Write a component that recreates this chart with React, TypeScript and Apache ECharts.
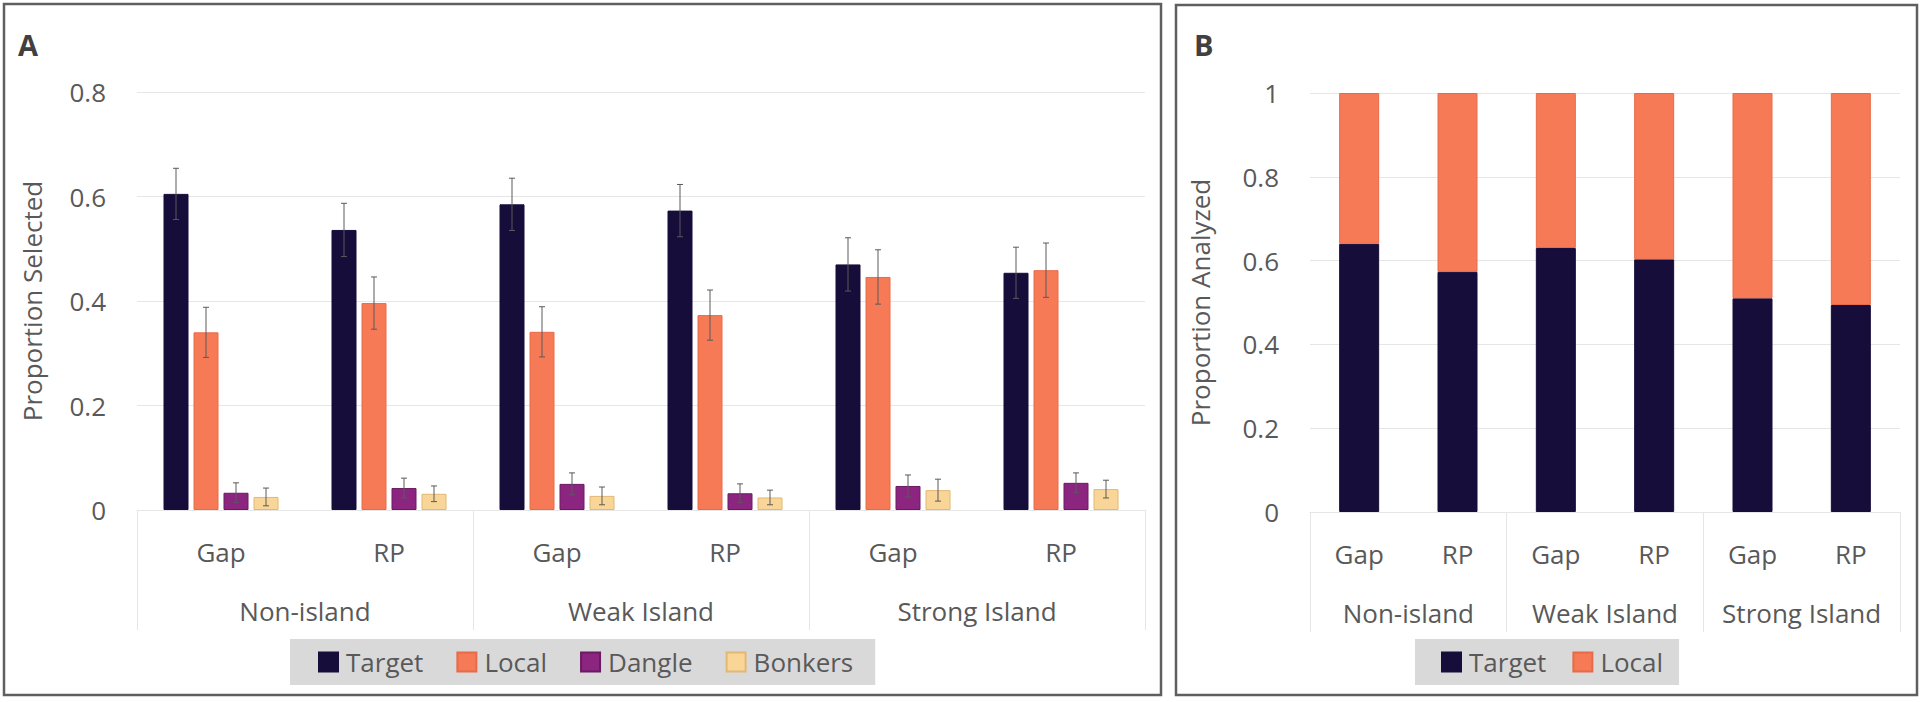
import React, { useEffect, useRef } from "react";
import * as echarts from "echarts";

const categories = ["Gap", "RP", "Gap", "RP", "Gap", "RP"];
const groups = ["Non-island", "Weak Island", "Strong Island"];

// Panel A: proportion selected
const targetA = [0.605, 0.536, 0.585, 0.573, 0.47, 0.454];
const localA = [0.34, 0.396, 0.341, 0.373, 0.446, 0.459];
const dangleA = [0.033, 0.042, 0.05, 0.032, 0.046, 0.052];
const bonkersA = [0.025, 0.031, 0.027, 0.024, 0.038, 0.04];
// half-width of the error bars
const targetErr = [0.049, 0.051, 0.05, 0.05, 0.051, 0.049];
const localErr = [0.048, 0.05, 0.048, 0.048, 0.052, 0.052];
const dangleErr = [0.019, 0.019, 0.021, 0.018, 0.021, 0.019];
const bonkersErr = [0.017, 0.015, 0.017, 0.014, 0.021, 0.017];

// Panel B: proportion analyzed
const targetB = [0.64, 0.573, 0.63, 0.603, 0.51, 0.494];
const localB = [0.36, 0.427, 0.37, 0.397, 0.49, 0.506];

const COLORS = {
  Target: "#160d3a",
  Local: "#f77a57",
  Dangle: "#8c2580",
  Bonkers: "#f9d698",
};
const BORDERS = {
  Target: "#160d3a",
  Local: "#e86a48",
  Dangle: "#6a1a60",
  Bonkers: "#e2b874",
};

const FONT = "Open Sans";
const TXT = "#595959";
const GRID = "#e6e6e6";
const FS = 26;

const BAR_W_A = 25;
const BAR_GAP_A = 5;

export default function App() {
  const ref = useRef<HTMLDivElement>(null);

  useEffect(() => {
    if (!ref.current) return;
    const chart = echarts.init(ref.current, undefined, { renderer: "svg" });

    const namesA = ["Target", "Local", "Dangle", "Bonkers"];
    const valsA = [targetA, localA, dangleA, bonkersA];
    const errsA = [targetErr, localErr, dangleErr, bonkersErr];

    const barSeriesA = namesA.map((n, i) => ({
      name: n,
      type: "bar",
      xAxisIndex: 0,
      yAxisIndex: 0,
      barWidth: BAR_W_A,
      barGap: (BAR_GAP_A / BAR_W_A) * 100 + "%",
      data: valsA[i],
      itemStyle: { color: COLORS[n], borderColor: BORDERS[n], borderWidth: 1 },
    }));

    const errSeriesA = namesA.map((n, i) => {
      const offset = (i - 1.5) * (BAR_W_A + BAR_GAP_A);
      return {
        type: "custom",
        xAxisIndex: 0,
        yAxisIndex: 0,
        silent: true,
        z: 5,
        data: valsA[i].map((v, k) => [k, v - errsA[i][k], v + errsA[i][k]]),
        renderItem: (params: any, api: any) => {
          const x = api.value(0);
          const hi = api.coord([x, api.value(2)]);
          const lo = api.coord([x, api.value(1)]);
          const cx = hi[0] + offset;
          const st = { stroke: "#5a5a5a", lineWidth: 1 };
          return {
            type: "group",
            children: [
              { type: "line", shape: { x1: cx, y1: hi[1], x2: cx, y2: lo[1] }, style: st },
              { type: "line", shape: { x1: cx - 3, y1: hi[1], x2: cx + 3, y2: hi[1] }, style: st },
              { type: "line", shape: { x1: cx - 3, y1: lo[1], x2: cx + 3, y2: lo[1] }, style: st },
            ],
          };
        },
      };
    });

    const barSeriesB = [
      { name: "Target", data: targetB },
      { name: "Local", data: localB },
    ].map((s) => ({
      name: s.name,
      type: "bar",
      stack: "b",
      xAxisIndex: 2,
      yAxisIndex: 1,
      barWidth: 40,
      data: s.data,
      itemStyle: { color: COLORS[s.name], borderColor: BORDERS[s.name], borderWidth: 1 },
    }));

    const catAxis = (gridIndex: number) => ({
      type: "category",
      gridIndex,
      data: categories,
      position: "bottom",
      axisLine: { show: true, lineStyle: { color: GRID, width: 1 } },
      axisTick: { show: false },
      axisLabel: {
        color: TXT,
        fontFamily: FONT,
        fontSize: FS,
        margin: 29,
        lineHeight: FS,
        interval: 0,
        hideOverlap: false,
      },
    });
    const groupAxis = (gridIndex: number) => ({
      type: "category",
      gridIndex,
      data: groups,
      position: "bottom",
      axisLine: { show: false },
      axisTick: { show: true, length: 120, interval: 0, lineStyle: { color: GRID, width: 1 } },
      axisLabel: {
        color: TXT,
        fontFamily: FONT,
        fontSize: FS,
        margin: 88,
        lineHeight: FS,
        interval: 0,
        hideOverlap: false,
      },
    });

    const valAxis = (gridIndex: number, max: number, name: string, nameGap: number) => ({
      type: "value",
      gridIndex,
      min: 0,
      max,
      interval: 0.2,
      name,
      nameLocation: "middle",
      nameGap,
      nameTextStyle: { color: TXT, fontFamily: FONT, fontSize: FS },
      axisLine: { show: false },
      axisTick: { show: false },
      axisLabel: {
        color: TXT,
        fontFamily: FONT,
        fontSize: FS,
        margin: 31,
        formatter: (v: number) => String(Math.round(v * 10) / 10),
      },
      splitLine: { lineStyle: { color: GRID, width: 1 } },
    });

    const legendBase = {
      orient: "horizontal",
      backgroundColor: "#d9d9d9",
      borderRadius: 0,
      itemWidth: 19,
      itemHeight: 19,
      icon: "rect",
      textStyle: { color: TXT, fontFamily: FONT, fontSize: FS, lineHeight: 26, padding: [0, 0, 0, 3] },
      selectedMode: false,
    };

    chart.setOption({
      animation: false,
      backgroundColor: "#ffffff",
      textStyle: { fontFamily: FONT },
      grid: [
        { left: 137, right: 775, top: 92, bottom: 192, containLabel: false },
        { left: 1310, right: 20, top: 93, bottom: 190, containLabel: false },
      ],
      xAxis: [catAxis(0), groupAxis(0), catAxis(1), groupAxis(1)],
      yAxis: [
        valAxis(0, 0.8, "Proportion Selected", 92),
        valAxis(1, 1, "Proportion Analyzed", 97),
      ],
      legend: [
        {
          ...legendBase,
          left: 290,
          top: 639,
          itemGap: 33,
          padding: [10, 22, 10, 28],
          data: namesA,
        },
        {
          ...legendBase,
          left: 1415,
          top: 639,
          itemGap: 26,
          padding: [10, 16, 10, 26],
          data: ["Target", "Local"],
        },
      ],
      series: [...barSeriesA, ...errSeriesA, ...barSeriesB],
      graphic: [
        {
          type: "rect",
          shape: { x: 4, y: 4, width: 1157, height: 691 },
          style: { fill: "none", stroke: "#5f5f5f", lineWidth: 2.5 },
          silent: true,
        },
        {
          type: "rect",
          shape: { x: 1176, y: 5, width: 741, height: 690 },
          style: { fill: "none", stroke: "#5f5f5f", lineWidth: 2.5 },
          silent: true,
        },
        {
          type: "text",
          left: 18,
          top: 30,
          style: { text: "A", fill: "#404040", font: `bold 29px "${FONT}"` },
        },
        {
          type: "text",
          left: 1194,
          top: 30,
          style: { text: "B", fill: "#404040", font: `bold 29px "${FONT}"` },
        },
      ],
    });

    return () => chart.dispose();
  }, []);

  return (
    <div
      ref={ref}
      style={{ position: "fixed", left: 0, top: 0, width: 1920, height: 702, background: "#fff" }}
    />
  );
}
